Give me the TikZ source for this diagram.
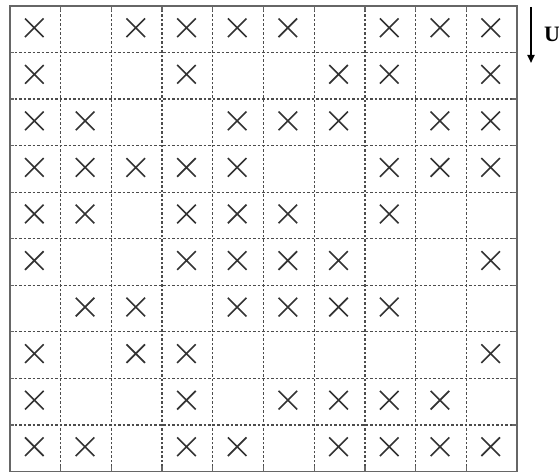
\documentclass[tikz,border=0pt]{standalone}
\usepackage{fontspec}
\setmainfont{Liberation Serif}
\usetikzlibrary{shapes.misc,arrows.meta}
\begin{document}
\begin{tikzpicture}[x=1pt,y=1pt,
  frame/.style={draw=black!60,line width=1.8pt},
  gridline/.style={draw=black!70,line width=1.3pt,dash pattern=on 2.8pt off 1.7pt},
  tick/.style={draw=black!60,line width=1.3pt},
  xmark/.style={cross out,draw=black!80,line width=1.6pt,minimum width=17pt,minimum height=17pt,inner sep=0pt},
  flowarrow/.style={draw=black,line width=1.8pt,-{Triangle[length=8pt,width=7pt]}}]
\useasboundingbox (0,0) rectangle (559,473);
\def\xl{10}\def\xr{517}\def\yt{467}\def\yb{1.5}
\pgfmathsetmacro{\cw}{(\xr-\xl)/10}
\pgfmathsetmacro{\rh}{(\yt-\yb)/10}
% dashed inner grid
\foreach \i in {1,...,9}{
  \draw[gridline] ({\xl+\i*\cw},\yb) -- ({\xl+\i*\cw},\yt);
  \draw[gridline] (\xl,{\yb+\i*\rh}) -- (\xr,{\yb+\i*\rh});
  \draw[tick] ({\xl+\i*\cw},\yb) -- ++(0,5);
  \draw[tick] ({\xl+\i*\cw},\yt) -- ++(0,-5);
  \draw[tick] (\xl,{\yb+\i*\rh}) -- ++(4,0);
  \draw[tick] (\xr,{\yb+\i*\rh}) -- ++(-5,0);
}
\draw[frame] (\xl,\yb) rectangle (\xr,\yt);
% marks: row index from top, list of columns
\foreach \r/\cols in {1/{1,3,4,5,6,8,9,10},
                      2/{1,4,7,8,10},
                      3/{1,2,5,6,7,9,10},
                      4/{1,2,3,4,5,8,9,10},
                      5/{1,2,4,5,6,8},
                      6/{1,4,5,6,7,10},
                      7/{2,3,5,6,7,8},
                      8/{1,3,4,10},
                      9/{1,4,6,7,8,9},
                      10/{1,2,4,5,7,8,9,10}}{
  \foreach \c in \cols{
    \node[xmark] (m-\r-\c) at ({\xl+(\c-0.5)*\cw-1},{\yt-(\r-0.5)*\rh+1.5}) {};
  }
}
% flow direction
\coordinate (ua) at (531,466);
\coordinate (ub) at (531,410);
\draw[flowarrow] (ua) -- (ub);
\node[anchor=west,inner sep=0pt,font=\fontsize{22}{22}\selectfont\bfseries] (U) at (544,439) {U};
\end{tikzpicture}
\end{document}
